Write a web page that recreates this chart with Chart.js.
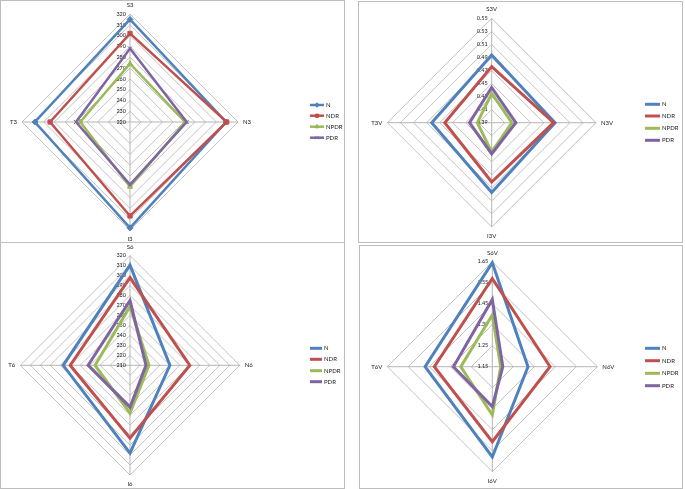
<!DOCTYPE html>
<html><head><meta charset="utf-8">
<script src="https://cdn.jsdelivr.net/npm/chart.js@4"></script>
<style>
html,body{margin:0;padding:0;background:#fff}
body{width:685px;height:489px;position:relative;overflow:hidden}
.p{position:absolute;border:1px solid #bdbdbd;box-sizing:border-box;background:#fff}
.p canvas{position:absolute;left:0;top:0}
</style></head><body>
<div class="p" id="p1" style="left:0;top:0;width:345px;height:243px"><canvas id="c1"></canvas></div>
<div class="p" id="p2" style="left:358px;top:1px;width:325px;height:242px"><canvas id="c2"></canvas></div>
<div class="p" id="p3" style="left:0;top:242px;width:345px;height:247px"><canvas id="c3"></canvas></div>
<div class="p" id="p4" style="left:359px;top:245px;width:324px;height:244px"><canvas id="c4"></canvas></div>
<script>
// ---- data ----
const seriesNames = ['N', 'NDR', 'NPDR', 'PDR'];

const cats1 = ['S3', 'N3', 'I3', 'T3'];
const n1    = [315, 309, 318, 308];
const ndr1  = [302, 309.5, 307, 294];
const npdr1 = [274, 271, 280, 266];
const pdr1  = [288, 272.5, 278, 270];
const ticks1 = ['220','230','240','250','260','270','280','290','300','310','320'];

const cats2 = ['S3V', 'N3V', 'I3V', 'T3V'];
const n2    = [0.494, 0.487, 0.497, 0.482];
const ndr2  = [0.476, 0.485, 0.481, 0.462];
const npdr2 = [0.435, 0.421, 0.435, 0.412];
const pdr2  = [0.444, 0.427, 0.438, 0.424];
const ticks2 = ['0.39','0.41','0.43','0.45','0.47','0.49','0.51','0.53','0.55'];

const cats3 = ['S6', 'N6', 'I6', 'T6'];
const n3    = [310.5, 250, 298, 277];
const ndr3  = [298, 270, 283, 270];
const npdr3 = [269, 229, 258, 245];
const pdr3  = [275, 226, 252, 252];
const ticks3 = ['210','220','230','240','250','260','270','280','290','300','310','320'];

const cats4 = ['S6V', 'N6V', 'I6V', 'T6V'];
const n4    = [1.645, 1.32, 1.58, 1.47];
const ndr4  = [1.57, 1.425, 1.507, 1.426];
const npdr4 = [1.396, 1.19, 1.38, 1.30];
const pdr4  = [1.47, 1.20, 1.34, 1.335];
const ticks4 = ['1.15','1.25','1.35','1.45','1.55','1.65'];

// ---- styling ----
const colors = ['#4F81BD', '#C0504D', '#9BBB59', '#8064A2'];
const markerStyles = ['rectRot', 'rect', 'triangle', 'crossRot'];
const FONT = 'Lato, "Liberation Sans", sans-serif';

const decor = {
  id: 'decor',
  beforeDatasetsDraw(chart, args, o) {
    const ctx = chart.ctx, s = chart.scales.r;
    ctx.save();
    ctx.fillStyle = '#1a1a1a';
    ctx.font = o.tickFont + 'px ' + FONT;
    ctx.textAlign = 'right';
    ctx.textBaseline = 'middle';
    o.tickLabels.forEach(t => {
      const d = s.getDistanceFromCenterForValue(parseFloat(t));
      ctx.fillText(t, s.xCenter - o.tickGap, s.yCenter - d);
    });
    ctx.font = o.labelFont + 'px ' + FONT;
    chart.data.labels.forEach((lab, i) => {
      const p = s.getPointPositionForValue(i, s.max);
      const a = s.getIndexAngle(i) - Math.PI / 2;
      const c = Math.cos(a), sn = Math.sin(a);
      if (Math.abs(c) < 0.1) {
        ctx.textAlign = 'center';
        ctx.fillText(lab, p.x, p.y + (sn < 0 ? -o.gapV : o.gapV));
      } else {
        ctx.textAlign = c > 0 ? 'left' : 'right';
        ctx.fillText(lab, p.x + (c > 0 ? o.gapH : -o.gapH), p.y);
      }
    });
    ctx.restore();
  },
  afterDraw(chart, args, o) {
    const ctx = chart.ctx;
    ctx.save();
    ctx.font = o.legendFont + 'px ' + FONT;
    ctx.textAlign = 'left';
    ctx.textBaseline = 'middle';
    chart.data.datasets.slice().sort((a, b) => a.idx - b.idx).forEach((ds, i) => {
      const y = o.legY[i];
      ctx.strokeStyle = ds.borderColor;
      ctx.lineWidth = ds.borderWidth;
      ctx.beginPath();
      ctx.moveTo(o.legX, y);
      ctx.lineTo(o.legX + o.legLen, y);
      ctx.stroke();
      if (o.markers) {
        ctx.lineWidth = 1;
        Chart.helpers.drawPoint(ctx, {pointStyle: ds.pointStyle, radius: 2.2, borderWidth: 1, rotation: 0},
          o.legX + o.legLen / 2, y);
        ctx.fillStyle = ds.borderColor;
        ctx.fill();
      }
      ctx.fillStyle = '#1a1a1a';
      ctx.fillText(ds.label, o.legX + o.legLen + 2, y);
    });
    ctx.restore();
  }
};

function makeChart(id, panel, cats, series, tickLabels, minV, maxV, step, geo, opt) {
  const canvas = document.getElementById(id);
  const ox = panel.left + 1, oy = panel.top + 1;
  canvas.width = panel.w - 2;
  canvas.height = panel.h - 2;
  const datasets = series.map((vals, i) => ({
    label: seriesNames[i],
    idx: i,
    data: vals,
    borderColor: colors[i],
    backgroundColor: colors[i],
    borderWidth: opt.lineWidth,
    fill: false,
    order: 4 - i,
    pointStyle: opt.markers ? markerStyles[i] : 'circle',
    pointRadius: opt.markers ? 3 : 0,
    pointBorderWidth: opt.markers ? 1 : 0,
    pointBackgroundColor: colors[i],
    pointBorderColor: colors[i],
    pointHoverRadius: 0,
    tension: 0
  }));
  return new Chart(canvas, {
    type: 'radar',
    data: {labels: cats, datasets},
    plugins: [decor],
    options: {
      responsive: false,
      animation: false,
      events: [],
      layout: {padding: 0},
      plugins: {
        legend: {display: false},
        tooltip: {enabled: false},
        decor: {
          tickLabels, tickFont: 5.5, tickGap: 4, labelFont: 6, gapV: 9, gapH: 5,
          legendFont: 6, legX: opt.legX - ox, legLen: opt.legLen,
          legY: opt.legY.map(v => v - oy), markers: opt.markers
        }
      },
      scales: {
        r: {
          min: minV, max: maxV,
          ticks: {display: false, stepSize: step},
          pointLabels: {display: false},
          grid: {color: '#c2c2c2', lineWidth: 1},
          angleLines: {color: '#b5b5b5', lineWidth: 1},
          afterFit: s => { s.xCenter = geo.cx - ox; s.yCenter = geo.cy - oy; s.drawingArea = geo.r; }
        }
      }
    }
  });
}

makeChart('c1', {left: 0, top: 0, w: 345, h: 243}, cats1, [n1, ndr1, npdr1, pdr1], ticks1, 220, 320, 10,
  {cx: 130, cy: 122, r: 108},
  {lineWidth: 2.5, markers: true, legX: 310, legLen: 14, legY: [105, 115.7, 126.7, 137.7]});

makeChart('c2', {left: 358, top: 1, w: 325, h: 242}, cats2, [n2, ndr2, npdr2, pdr2], ticks2, 0.39, 0.55, 0.02,
  {cx: 491.7, cy: 122.7, r: 104.3},
  {lineWidth: 3, markers: false, legX: 645, legLen: 15, legY: [104.3, 116, 128.3, 140.3]});

makeChart('c3', {left: 0, top: 242, w: 345, h: 247}, cats3, [n3, ndr3, npdr3, pdr3], ticks3, 210, 320, 10,
  {cx: 130, cy: 365.3, r: 109.7},
  {lineWidth: 3, markers: false, legX: 310, legLen: 12, legY: [348.3, 359.3, 370.7, 381.7]});

makeChart('c4', {left: 359, top: 245, w: 324, h: 244}, cats4, [n4, ndr4, npdr4, pdr4], ticks4, 1.15, 1.65, 0.1,
  {cx: 492.3, cy: 366.7, r: 105},
  {lineWidth: 3, markers: false, legX: 645, legLen: 15, legY: [348.3, 360.7, 373.3, 385.7]});
</script>
</body></html>
